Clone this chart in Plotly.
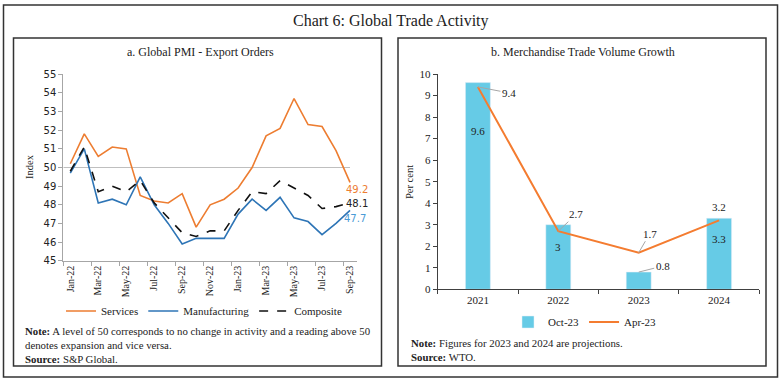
import plotly.graph_objects as go

# ---------------- data ----------------
months = ["Jan-22", "Feb-22", "Mar-22", "Apr-22", "May-22", "Jun-22", "Jul-22",
          "Aug-22", "Sep-22", "Oct-22", "Nov-22", "Dec-22", "Jan-23", "Feb-23",
          "Mar-23", "Apr-23", "May-23", "Jun-23", "Jul-23", "Aug-23", "Sep-23"]
services = [50.2, 51.8, 50.6, 51.1, 51.0, 48.5, 48.2, 48.1, 48.6, 46.8, 48.0,
            48.3, 48.9, 50.0, 51.7, 52.1, 53.7, 52.3, 52.2, 50.9, 49.2]
manufacturing = [49.7, 51.0, 48.1, 48.3, 48.0, 49.5, 48.0, 47.0, 45.9, 46.2, 46.2,
                 46.2, 47.5, 48.3, 47.7, 48.4, 47.3, 47.1, 46.4, 47.0, 47.7]
composite = [49.8, 51.1, 48.7, 49.0, 48.7, 49.3, 48.1, 47.3, 46.5, 46.3, 46.6,
             46.6, 47.7, 48.7, 48.6, 49.3, 48.9, 48.5, 47.8, 47.9, 48.1]
threshold = 50

years = ["2021", "2022", "2023", "2024"]
oct23 = [9.6, 3.0, 0.8, 3.3]
apr23 = [9.4, 2.7, 1.7, 3.2]

# ---------------- style ----------------
W, H = 782, 384
ORANGE = "#ED7D31"
ORANGE2 = "#F47C30"
BLUE = "#2E75B6"
CYAN = "#66CBE6"
SERIF = "Liberation Serif"
SANS = "DejaVu Sans"
TXT = "#222222"
AXC = "#A6A6A6"


def px(x):
    return x / W


def py(y):
    return 1 - y / H


idx = list(range(len(months)))
yidx = list(range(len(years)))

fig = go.Figure()

# left chart lines
fig.add_trace(go.Scatter(x=idx, y=services, mode="lines", name="Services",
                         line=dict(color=ORANGE, width=1.6), xaxis="x", yaxis="y",
                         legend="legend"))
fig.add_trace(go.Scatter(x=idx, y=manufacturing, mode="lines", name="Manufacturing",
                         line=dict(color=BLUE, width=1.6), xaxis="x", yaxis="y",
                         legend="legend"))
fig.add_trace(go.Scatter(x=idx, y=composite, mode="lines", name="Composite",
                         line=dict(color="#111111", width=1.6, dash="dash"),
                         xaxis="x", yaxis="y", legend="legend"))

# right chart
fig.add_trace(go.Bar(x=yidx, y=oct23, name="Oct-23", marker=dict(color=CYAN),
                     width=0.31, xaxis="x2", yaxis="y2", legend="legend2"))
fig.add_trace(go.Scatter(x=yidx, y=apr23, mode="lines", name="Apr-23",
                         line=dict(color=ORANGE2, width=2), xaxis="x2", yaxis="y2",
                         legend="legend2"))

shapes = []
# threshold line at 50
shapes.append(dict(type="line", xref="x", yref="y", x0=-0.5, x1=idx[-1],
                   y0=threshold, y1=threshold, line=dict(color="#BFBFBF", width=1),
                   layer="below"))
# borders
shapes.append(dict(type="rect", xref="paper", yref="paper", x0=px(3.5), x1=px(777.5),
                   y0=py(377), y1=py(5), line=dict(color="#333333", width=1.5)))
shapes.append(dict(type="rect", xref="paper", yref="paper", x0=px(13.5), x1=px(381.5),
                   y0=py(366), y1=py(38), line=dict(color="#333333", width=1.5)))
shapes.append(dict(type="rect", xref="paper", yref="paper", x0=px(398), x1=px(766),
                   y0=py(366), y1=py(38), line=dict(color="#333333", width=1.5)))


def paper_text(text, x, y, size, family=SERIF, angle=0, xanchor="center",
               yanchor="middle", align="center"):
    return dict(text=text, x=px(x), y=py(y), xref="paper", yref="paper",
                showarrow=False, textangle=angle, xanchor=xanchor, yanchor=yanchor,
                align=align, font=dict(family=family, size=size, color=TXT))


ann = []
ann.append(paper_text("Chart 6: Global Trade Activity", 391, 21, 16))
ann.append(paper_text("a. Global PMI - Export Orders", 200, 52, 12))
ann.append(paper_text("b. Merchandise Trade Volume Growth", 583, 52, 12))
ann.append(paper_text("Index", 30, 167, 10.5, angle=-90))
ann.append(paper_text("Per cent", 410, 182, 10.5, angle=-90))

# end labels left chart
last = idx[-1]
ann.append(dict(text=f"{services[-1]:.1f}", x=last, y=services[-1], xref="x", yref="y",
                showarrow=False, xshift=7, yshift=-7,
                font=dict(family=SANS, size=10, color=ORANGE)))
ann.append(dict(text=f"{composite[-1]:.1f}", x=last, y=composite[-1], xref="x", yref="y",
                showarrow=False, xshift=7, yshift=-1,
                font=dict(family=SANS, size=10, color="#222222")))
ann.append(dict(text=f"{manufacturing[-1]:.1f}", x=last, y=manufacturing[-1], xref="x",
                yref="y", showarrow=False, xshift=5, yshift=-8,
                font=dict(family=SANS, size=10, color="#4A9BD6")))

# bar labels (Oct-23)
bar_shift = [-48, -22, None, -21]
for i, v, s in zip(yidx, oct23, bar_shift):
    lab = f"{v:g}"
    if s is None:
        ann.append(dict(text=lab, x=i, y=v, xref="x2", yref="y2", showarrow=True,
                        arrowhead=0, arrowwidth=1, arrowcolor="#A6A6A6", ax=24, ay=-6,
                        standoff=0, font=dict(family=SERIF, size=11, color=TXT)))
    else:
        ann.append(dict(text=lab, x=i, y=v, xref="x2", yref="y2", showarrow=False,
                        yshift=s, font=dict(family=SERIF, size=11, color=TXT)))

# line labels (Apr-23)
line_off = [(31, 6), (18, -17), (11, -19), None]
for i, v, o in zip(yidx, apr23, line_off):
    lab = f"{v:g}"
    if o is None:
        ann.append(dict(text=lab, x=i, y=v, xref="x2", yref="y2", showarrow=False,
                        yshift=13, font=dict(family=SERIF, size=11, color=TXT)))
    else:
        ann.append(dict(text=lab, x=i, y=v, xref="x2", yref="y2", showarrow=True,
                        arrowhead=0, arrowwidth=1, arrowcolor="#A6A6A6",
                        ax=o[0], ay=o[1], standoff=0,
                        font=dict(family=SERIF, size=11, color=TXT)))

# notes
ann.append(paper_text("<b>Note:</b> A level of 50 corresponds to no change in activity and a reading above 50<br>"
                      "denotes expansion and vice versa.<br><b>Source:</b> S&P Global.",
                      23, 323, 10.8, xanchor="left", yanchor="top", align="left"))
ann.append(paper_text("<b>Note:</b> Figures for 2023 and 2024 are projections.<br>"
                      "<b>Source:</b> WTO.",
                      409, 335, 10.8, xanchor="left", yanchor="top", align="left"))

fig.update_layout(
    width=W, height=H, margin=dict(l=0, r=0, t=0, b=0, autoexpand=False),
    paper_bgcolor="white", plot_bgcolor="white",
    showlegend=True,
    shapes=shapes, annotations=ann,
    xaxis=dict(domain=[px(63.3), px(357)], range=[-0.5, len(months) - 0.5],
               autorange=False, automargin=False,
               tickmode="array", tickvals=idx[::2], ticktext=months[::2],
               tickangle=-90, ticks="", showline=True, linecolor=AXC, linewidth=1,
               showgrid=False, zeroline=False,
               tickfont=dict(family=SERIF, size=10, color=TXT),
               minor=dict(tickmode="array",
                          tickvals=[i - 0.5 for i in range(0, len(months) + 1, 2)],
                          ticks="outside", ticklen=4, tickcolor=AXC, showgrid=False),
               anchor="y"),
    yaxis=dict(domain=[py(260.7), py(74.3)], range=[45, 55], dtick=1,
               autorange=False, automargin=False,
               ticks="outside", ticklen=4, tickcolor=AXC, showline=True,
               linecolor=AXC, linewidth=1, showgrid=False, zeroline=False,
               tickfont=dict(family=SANS, size=10, color=TXT), anchor="x"),
    xaxis2=dict(domain=[px(437.7), px(759.3)], range=[-0.5, len(years) - 0.5],
                autorange=False, automargin=False,
                tickmode="array", tickvals=yidx, ticktext=years, ticks="",
                tickangle=0,
                minor=dict(tickmode="array",
                           tickvals=[i - 0.5 for i in range(len(years) + 1)],
                           ticks="outside", ticklen=4, tickcolor="#404040",
                           showgrid=False),
                showline=True, linecolor="#404040", linewidth=1, showgrid=False,
                zeroline=False,
                tickfont=dict(family=SERIF, size=11, color=TXT), anchor="y2"),
    yaxis2=dict(domain=[py(289.3), py(74)], range=[0, 10], dtick=1,
                autorange=False, automargin=False,
                ticks="outside", ticklen=4, tickcolor="#404040", showline=True,
                linecolor="#404040", linewidth=1, showgrid=False, zeroline=False,
                tickfont=dict(family=SERIF, size=11, color=TXT), anchor="x2"),
    legend=dict(orientation="h", x=px(204), y=py(311), xanchor="center",
                yanchor="middle", font=dict(family=SERIF, size=11, color=TXT),
                bgcolor="rgba(0,0,0,0)", itemwidth=30, tracegroupgap=0),
    legend2=dict(orientation="h", x=px(585), y=py(322), xanchor="center",
                 yanchor="middle", font=dict(family=SERIF, size=11, color=TXT),
                 bgcolor="rgba(0,0,0,0)", itemwidth=30),
    bargap=0.6,
)

fig.write_html("out.html", config={"displayModeBar": False},
               post_script="document.body.style.margin='0';document.body.style.padding='0';")
